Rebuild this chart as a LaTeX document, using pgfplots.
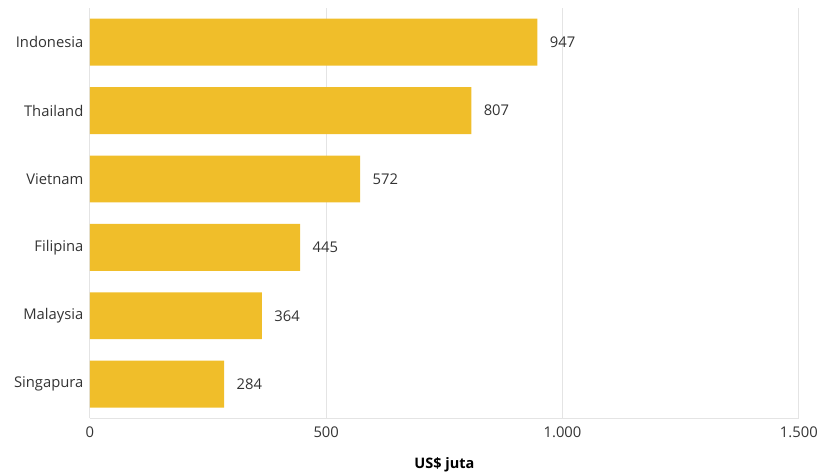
\documentclass[border=0pt]{standalone}
\usepackage{pgfplots}
\pgfplotsset{compat=1.18}
\usepackage{fontspec}
\setmainfont{Open Sans}
\definecolor{barc}{HTML}{F0BE2A}
\definecolor{txtc}{HTML}{333333}
\definecolor{gridc}{HTML}{E4E4E4}
\begin{document}
\begin{tikzpicture}
\begin{axis}[
  scale only axis,
  width=710bp, height=411bp,
  xbar, bar width=47bp,
  xmin=0, xmax=1500, ymin=-0.5, ymax=5.5,
  ytick={0,1,2,3,4,5},
  yticklabels={Singapura,Malaysia,Filipina,Vietnam,Thailand,Indonesia},
  xtick={0,500,1000,1500},
  xticklabels={0,500,1.000,1.500},
  major tick length=0,
  xtick style={draw=none}, ytick style={draw=none},
  xmajorgrids=true, ymajorgrids=false,
  major grid style={draw=gridc, line width=0.8bp},
  axis x line*=bottom, axis y line*=left,
  axis line style={draw=gridc, line width=0.8bp, -},
  tick label style={font=\fontsize{14.8bp}{17bp}\selectfont, text=txtc},
  yticklabel style={xshift=-3bp},
  xticklabel style={yshift=-5bp},
  xlabel={\textbf{US\$ juta}},
  xlabel style={font=\fontsize{14.5bp}{17bp}\selectfont, text=black, yshift=-13bp},
  nodes near coords,
  every node near coord/.append style={font=\fontsize{14.8bp}{17bp}\selectfont, text=txtc, anchor=west, xshift=9bp},
  point meta=explicit symbolic,
]
\addplot[fill=barc, draw=none] coordinates {
  (284,0) [284]
  (364,1) [364]
  (445,2) [445]
  (572,3) [572]
  (807,4) [807]
  (947,5) [947]
};
\end{axis}
\path[use as bounding box] ([xshift=-90bp,yshift=-54bp]current axis.south west) rectangle ([xshift=21bp,yshift=8bp]current axis.north east);
\end{tikzpicture}
\end{document}
